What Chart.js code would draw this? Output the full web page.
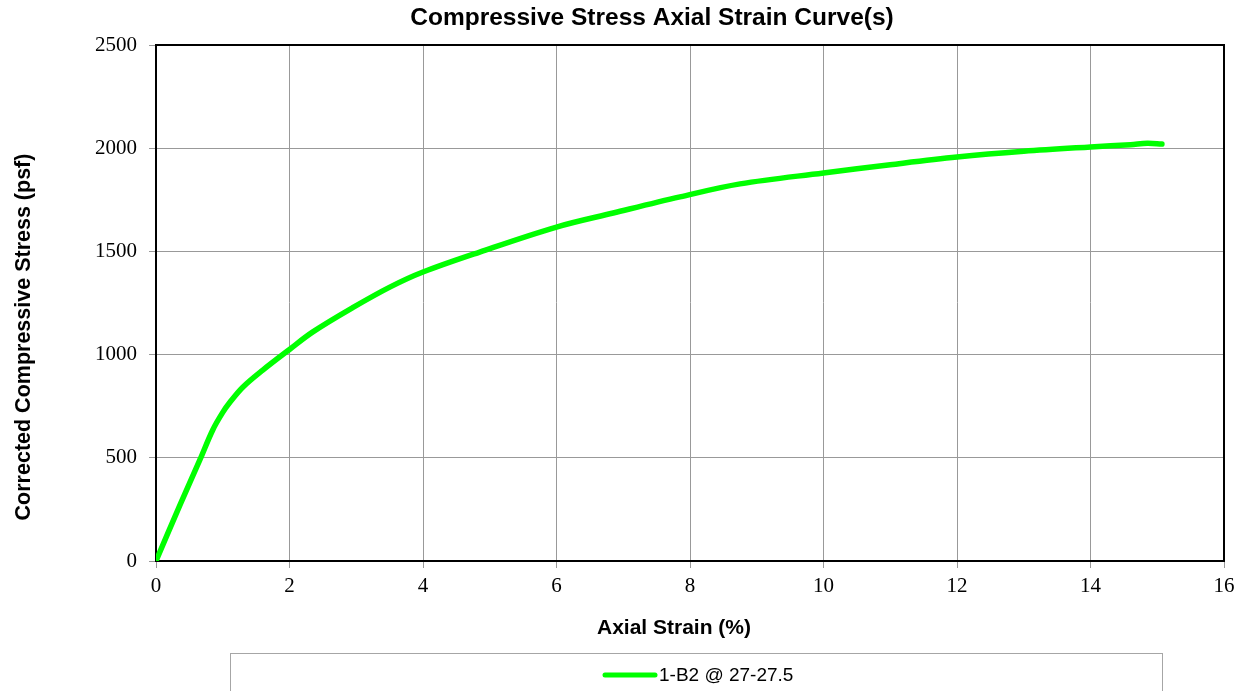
<!DOCTYPE html>
<html>
<head>
<meta charset="utf-8">
<script src="https://cdn.jsdelivr.net/npm/chart.js@4.4.0/dist/chart.umd.min.js"></script>
<style>
  body { margin: 0; background: #fff; }
  #wrap { width: 1244px; height: 691px; position: relative; }
</style>
</head>
<body>
<div id="wrap"><canvas id="stressChart"></canvas></div>
<script>
// data
const strain = [0, 0.36, 0.66, 0.85, 1.0, 1.11, 1.30, 1.60, 2.0, 2.35, 2.94, 3.51, 4.0, 4.85, 6.0, 6.85, 7.85, 8.75, 10.0, 11.0, 12.0, 13.0, 14.0, 14.6, 14.85, 15.07];
const stress = [0, 272, 492, 635, 720, 770, 842, 925, 1025, 1110, 1226, 1328, 1400, 1497, 1618, 1686, 1764, 1827, 1880, 1920, 1957, 1985, 2006, 2017, 2024, 2020];
const seriesLabel = '1-B2 @ 27-27.5';
const chartTitle = 'Compressive Stress Axial Strain Curve(s)';
const xTitle = 'Axial Strain (%)';
const yTitle = 'Corrected Compressive Stress (psf)';
const xTicks = [0, 2, 4, 6, 8, 10, 12, 14, 16];
const yTicks = [0, 500, 1000, 1500, 2000, 2500];

const GREEN = '#00ff00';
const SANS = '"Liberation Sans", Arial, sans-serif';
const SERIF = '"Liberation Serif", "Times New Roman", serif';

// frame on all four sides, drawn under the line
const framePlugin = {
    id: 'frame',
    beforeDatasetsDraw(chart){
        const {ctx, chartArea: a} = chart;
        ctx.save();
        ctx.strokeStyle = '#000';
        ctx.lineWidth = 2;
        ctx.strokeRect(a.left, a.top, a.right - a.left, a.bottom - a.top);
        ctx.restore();
    }
};

// titles and boxed legend
const textPlugin = {
    id: 'texts',
    afterDraw(chart){
        const {ctx} = chart;
        ctx.save();
        ctx.fillStyle = '#000';
        ctx.textAlign = 'center';
        ctx.textBaseline = 'middle';

        ctx.font = 'bold 24.5px ' + SANS;
        ctx.fillText(chartTitle, 652, 18);

        ctx.font = 'bold 21px ' + SANS;
        ctx.fillText(xTitle, 674, 628);

        ctx.save();
        ctx.translate(24, 337);
        ctx.rotate(-Math.PI / 2);
        ctx.font = 'bold 21.5px ' + SANS;
        ctx.fillText(yTitle, 0, 0);
        ctx.restore();

        // legend box
        ctx.strokeStyle = '#a6a6a6';
        ctx.lineWidth = 1;
        ctx.strokeRect(230.5, 653.5, 932, 60);

        ctx.strokeStyle = GREEN;
        ctx.lineWidth = 5;
        ctx.lineCap = 'round';
        ctx.beginPath();
        ctx.moveTo(605, 675);
        ctx.lineTo(655, 675);
        ctx.stroke();

        ctx.textAlign = 'left';
        ctx.font = '19px ' + SANS;
        ctx.fillText(chart.data.datasets[0].label, 659, 676);
        ctx.restore();
    }
};

const ctx = document.getElementById('stressChart').getContext('2d');

new Chart(ctx, {
    type: 'line',
    data: {
        datasets: [{
            label: seriesLabel,
            data: strain.map((x, i) => ({x: x, y: stress[i]})),
            borderColor: GREEN,
            borderWidth: 5.5,
            borderCapStyle: 'round',
            borderJoinStyle: 'round',
            tension: 0.35,
            pointRadius: 0,
            fill: false
        }]
    },
    options: {
        responsive: true,
        maintainAspectRatio: false,
        animation: false,
        layout: { padding: { top: 45, right: 20, left: 0, bottom: 0 } },
        plugins: {
            legend: { display: false },
            title: { display: false },
            tooltip: { enabled: false }
        },
        scales: {
            x: {
                type: 'linear',
                min: 0,
                max: 16,
                afterFit: s => { s.height = 130; },
                afterBuildTicks: s => { s.ticks = xTicks.map(v => ({value: v})); },
                grid: { color: '#999', lineWidth: 1, tickLength: 7 },
                border: { color: '#000', width: 2 },
                ticks: { color: '#000', padding: 6, maxRotation: 0, callback: v => String(v), font: { family: SERIF, size: 21 } }
            },
            y: {
                min: 0,
                max: 2500,
                afterFit: s => { s.width = 156; },
                afterBuildTicks: s => { s.ticks = yTicks.map(v => ({value: v})); },
                grid: { color: '#999', lineWidth: 1, tickLength: 7 },
                border: { color: '#000', width: 2 },
                ticks: { color: '#000', padding: 12, callback: v => String(v), font: { family: SERIF, size: 21 } }
            }
        }
    },
    plugins: [framePlugin, textPlugin]
});
</script>
</body>
</html>
